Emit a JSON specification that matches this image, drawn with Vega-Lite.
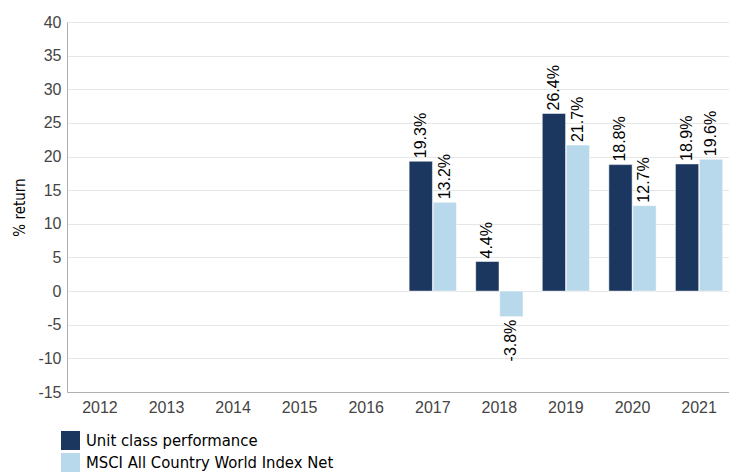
{
  "$schema": "https://vega.github.io/schema/vega-lite/v6.json",
  "width": 665,
  "height": 370,
  "autosize": {"type": "none"},
  "padding": {"left": 67, "top": 22, "right": -3, "bottom": 82},
  "background": "white",
  "config": {
    "view": {"stroke": null},
    "locale": {"number": {"decimal": ".", "thousands": ",", "grouping": [3], "currency": ["$", ""], "minus": "-"}}
  },
  "data": {
    "values": [
      {"year": "2017", "series": "Unit class performance", "value": 19.3},
      {"year": "2017", "series": "MSCI All Country World Index Net", "value": 13.2},
      {"year": "2018", "series": "Unit class performance", "value": 4.4},
      {"year": "2018", "series": "MSCI All Country World Index Net", "value": -3.8},
      {"year": "2019", "series": "Unit class performance", "value": 26.4},
      {"year": "2019", "series": "MSCI All Country World Index Net", "value": 21.7},
      {"year": "2020", "series": "Unit class performance", "value": 18.8},
      {"year": "2020", "series": "MSCI All Country World Index Net", "value": 12.7},
      {"year": "2021", "series": "Unit class performance", "value": 18.9},
      {"year": "2021", "series": "MSCI All Country World Index Net", "value": 19.6}
    ]
  },
  "encoding": {
    "x": {
      "field": "year", "type": "nominal",
      "scale": {"domain": ["2012","2013","2014","2015","2016","2017","2018","2019","2020","2021"], "paddingInner": 0.29, "paddingOuter": 0.14},
      "axis": {"title": null, "labelAngle": 0, "ticks": false, "labelPadding": 7, "labelFont": "Liberation Sans", "labelFontSize": 16, "labelColor": "#444444", "domainColor": "#b0b0b0", "grid": false}
    },
    "xOffset": {
      "field": "series", "type": "nominal",
      "scale": {"domain": ["Unit class performance", "MSCI All Country World Index Net"], "paddingInner": 0.03}
    },
    "y": {
      "field": "value", "type": "quantitative",
      "scale": {"domain": [-15, 40], "nice": false, "zero": false},
      "axis": {"title": "% return", "titleFont": "DejaVu Sans Condensed, Liberation Sans Narrow, Roboto, sans-serif", "titleFontWeight": "normal", "titleFontSize": 15, "titleColor": "#000000", "titlePadding": 10, "values": [-15,-10,-5,0,5,10,15,20,25,30,35,40], "ticks": false, "labelPadding": 6, "labelFont": "Liberation Sans", "labelFontSize": 16, "labelColor": "#444444", "domainColor": "#b0b0b0", "gridColor": "#e6e6e6"}
    }
  },
  "layer": [
    {
      "mark": {"type": "bar", "stroke": "white", "strokeWidth": 0.5},
      "encoding": {
        "color": {
          "field": "series", "type": "nominal",
          "scale": {"domain": ["Unit class performance", "MSCI All Country World Index Net"], "range": ["#1b365f", "#b8d8eb"]},
          "legend": {"title": null, "orient": "none", "legendX": -6, "legendY": 409, "direction": "vertical", "symbolType": "square", "symbolSize": 361, "symbolStrokeWidth": 0, "labelFont": "DejaVu Sans Condensed, Liberation Sans Narrow, Roboto, sans-serif", "labelFontSize": 16.5, "labelColor": "#000000", "rowPadding": 3, "labelOffset": 6, "labelLimit": 400}
        }
      }
    },
    {
      "mark": {"type": "text", "angle": -90, "align": "left", "baseline": "middle", "dx": 3, "font": "Liberation Sans", "fontSize": 16, "color": "#000000"},
      "transform": [{"filter": "datum.value >= 0"}, {"calculate": "format(datum.value, '.1f') + '%'", "as": "label"}],
      "encoding": {"text": {"field": "label", "type": "nominal"}}
    },
    {
      "mark": {"type": "text", "angle": -90, "align": "right", "baseline": "middle", "dx": -3, "font": "Liberation Sans", "fontSize": 16, "color": "#000000"},
      "transform": [{"filter": "datum.value < 0"}, {"calculate": "format(datum.value, '.1f') + '%'", "as": "label"}],
      "encoding": {"text": {"field": "label", "type": "nominal"}}
    }
  ]
}
